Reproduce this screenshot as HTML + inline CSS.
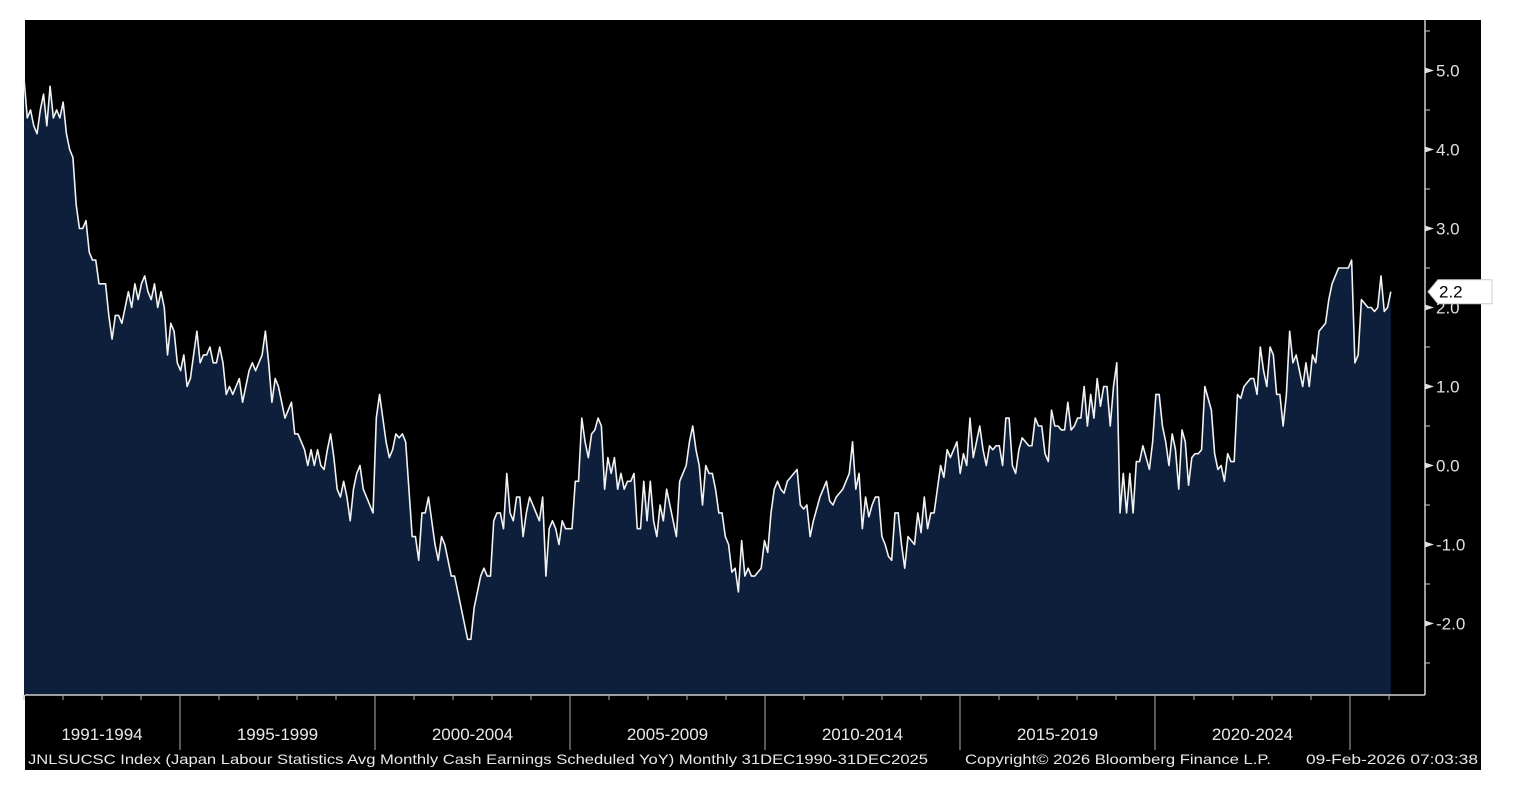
<!DOCTYPE html>
<html><head><meta charset="utf-8"><style>
html,body{margin:0;padding:0;background:#fff;width:1518px;height:786px;overflow:hidden}
svg{display:block;font-family:"Liberation Sans","DejaVu Sans",sans-serif}
</style></head><body>
<svg id="chart" width="1518" height="786" xmlns="http://www.w3.org/2000/svg">
<rect x="25" y="20" width="1456" height="750" fill="#000"/>
<g id="plot"></g>
<g id="axes"></g>
<text x="28" y="764" fill="#e8e8e8" font-size="14" textLength="900" lengthAdjust="spacingAndGlyphs">JNLSUCSC Index (Japan Labour Statistics Avg Monthly Cash Earnings Scheduled YoY) Monthly 31DEC1990-31DEC2025</text>
<text x="965" y="764" fill="#e8e8e8" font-size="14" textLength="306" lengthAdjust="spacingAndGlyphs">Copyright© 2026 Bloomberg Finance L.P.</text>
<text x="1306" y="764" fill="#e8e8e8" font-size="14" textLength="172" lengthAdjust="spacingAndGlyphs">09-Feb-2026 07:03:38</text>
</svg>
<script>
const startYear = 1991;
const values = [
4.9,4.4,4.5,4.3,4.2,4.5,4.7,4.3,4.8,4.4,4.5,4.4,
4.6,4.2,4.0,3.9,3.3,3.0,3.0,3.1,2.7,2.6,2.6,2.3,
2.3,2.3,1.9,1.6,1.9,1.9,1.8,2.0,2.2,2.0,2.3,2.1,
2.3,2.4,2.2,2.1,2.3,2.0,2.2,2.0,1.4,1.8,1.7,1.3,
1.2,1.4,1.0,1.1,1.4,1.7,1.3,1.4,1.4,1.5,1.3,1.3,
1.5,1.3,0.9,1.0,0.9,1.0,1.1,0.8,1.0,1.2,1.3,1.2,
1.3,1.4,1.7,1.3,0.8,1.1,1.0,0.8,0.6,0.7,0.8,0.4,
0.4,0.3,0.2,0.0,0.2,0.0,0.2,0.0,-0.05,0.2,0.4,0.1,
-0.3,-0.4,-0.2,-0.4,-0.7,-0.3,-0.1,0.0,-0.3,-0.4,-0.5,-0.6,
0.6,0.9,0.6,0.3,0.1,0.2,0.4,0.35,0.4,0.3,-0.3,-0.9,
-0.9,-1.2,-0.6,-0.6,-0.4,-0.7,-1.0,-1.2,-0.9,-1.0,-1.2,-1.4,
-1.4,-1.6,-1.8,-2.0,-2.2,-2.2,-1.8,-1.6,-1.4,-1.3,-1.4,-1.4,
-0.7,-0.6,-0.6,-0.8,-0.1,-0.6,-0.7,-0.4,-0.4,-0.9,-0.6,-0.4,
-0.5,-0.6,-0.7,-0.4,-1.4,-0.8,-0.7,-0.8,-1.0,-0.7,-0.8,-0.8,
-0.8,-0.2,-0.2,0.6,0.3,0.1,0.4,0.45,0.6,0.5,-0.3,0.1,
-0.1,0.1,-0.3,-0.1,-0.3,-0.2,-0.2,-0.1,-0.8,-0.8,-0.2,-0.7,
-0.2,-0.7,-0.9,-0.5,-0.7,-0.3,-0.5,-0.7,-0.9,-0.2,-0.1,0.0,
0.3,0.5,0.2,0.0,-0.5,0.0,-0.1,-0.1,-0.3,-0.6,-0.6,-0.9,
-1.0,-1.35,-1.3,-1.6,-0.95,-1.4,-1.3,-1.4,-1.4,-1.35,-1.3,-0.95,
-1.1,-0.6,-0.3,-0.2,-0.3,-0.35,-0.2,-0.15,-0.1,-0.05,-0.5,-0.55,
-0.5,-0.9,-0.7,-0.55,-0.4,-0.3,-0.2,-0.45,-0.5,-0.4,-0.35,-0.3,
-0.2,-0.1,0.3,-0.3,-0.1,-0.8,-0.4,-0.65,-0.5,-0.4,-0.4,-0.9,
-1.0,-1.15,-1.2,-0.6,-0.6,-1.0,-1.3,-0.9,-0.95,-1.0,-0.6,-0.85,
-0.4,-0.8,-0.6,-0.6,-0.3,0.0,-0.15,0.2,0.1,0.2,0.3,-0.1,
0.15,0.0,0.6,0.1,0.3,0.5,0.2,0.0,0.25,0.2,0.25,0.25,
0.0,0.6,0.6,0.0,-0.1,0.2,0.35,0.3,0.25,0.25,0.6,0.5,
0.5,0.15,0.05,0.7,0.5,0.5,0.45,0.45,0.8,0.45,0.5,0.6,
0.6,1.0,0.5,0.9,0.6,1.1,0.75,1.0,1.0,0.5,1.0,1.3,
-0.6,-0.1,-0.6,-0.1,-0.6,0.05,0.05,0.25,0.1,-0.05,0.3,0.9,
0.9,0.5,0.3,0.0,0.4,0.2,-0.3,0.45,0.3,-0.25,0.1,0.15,
0.15,0.2,1.0,0.85,0.7,0.15,-0.05,0.0,-0.2,0.15,0.05,0.05,
0.9,0.85,1.0,1.05,1.1,1.1,0.9,1.5,1.2,1.0,1.5,1.4,
0.9,0.9,0.5,0.9,1.7,1.3,1.4,1.2,1.0,1.3,1.0,1.4,
1.3,1.7,1.75,1.8,2.1,2.3,2.4,2.5,2.5,2.5,2.5,2.6,
1.3,1.4,2.1,2.05,2.0,2.0,1.95,2.0,2.4,1.95,2.0,2.2
];
const yTicks = [5.0,4.0,3.0,2.0,1.0,0.0,-1.0,-2.0];
const yTickLabels = ["5.0","4.0","3.0","2.0","1.0","0.0","-1.0","-2.0"];
const periodLabels = ["1991-1994","1995-1999","2000-2004","2005-2009","2010-2014","2015-2019","2020-2024"];
const periodStarts = [1991,1995,2000,2005,2010,2015,2020];
const periodEnds = [1995,2000,2005,2010,2015,2020,2025];
const lastValueLabel = "2.2";

const NS="http://www.w3.org/2000/svg";
const X0=24, PXM=3.262, Y0=465.5, PXU=79, BOTTOM=695, RIGHT=1425, TOP=20;
const xM = i => X0 + PXM*i;
const xYear = y => X0 + (y-startYear)*12*3.25;
const yV = v => Y0 - v*PXU;
function mk(tag, attrs, parent){const e=document.createElementNS(NS,tag);for(const k in attrs)e.setAttribute(k,attrs[k]);parent.appendChild(e);return e;}
const plot=document.getElementById('plot'), axes=document.getElementById('axes');

let pts=values.map((v,i)=>xM(i).toFixed(2)+","+yV(v).toFixed(2));
const area=mk('polygon',{points:xM(0)+","+BOTTOM+" "+pts.join(" ")+" "+xM(values.length-1)+","+BOTTOM,fill:"#0d1f3b"},plot);


const line=mk('polyline',{points:pts.join(" "),fill:"none",stroke:"#f2f2f2","stroke-width":"1.6","stroke-linejoin":"round"},plot);



const yAxis=mk('line',{x1:RIGHT,y1:TOP,x2:RIGHT,y2:BOTTOM,stroke:"#d0d0d0","stroke-width":"1.5"},axes);


const xAxis=mk('line',{x1:25,y1:BOTTOM,x2:RIGHT,y2:BOTTOM,stroke:"#d0d0d0","stroke-width":"1.5"},axes);



for(let v=-2.5; v<=5.5; v+=1){
  const t=mk('line',{x1:RIGHT,y1:yV(v),x2:RIGHT+5,y2:yV(v),stroke:"#d0d0d0","stroke-width":"1"},axes);
  
  
}
yTicks.forEach((v,i)=>{
  const y=yV(v);
  const tri=mk('polygon',{points:`${RIGHT},${y-3} ${RIGHT+9},${y} ${RIGHT},${y+3}`,fill:"#e0e0e0"},axes);
  
  
  const tx=mk('text',{x:RIGHT+11,y:y+6,fill:"#e0e0e0","font-size":"17"},axes);
  tx.textContent=yTickLabels[i];
  
  
});

for(let y=startYear; y<=2026; y++){
  const isMajor=periodEnds.includes(y)&&y!==2026;
  const t=mk('line',{x1:xYear(y),y1:BOTTOM,x2:xYear(y),y2:isMajor?750:BOTTOM+5,stroke:"#b0b0b0","stroke-width":"1"},axes);
  
  
}
periodLabels.forEach((lab,i)=>{
  const cx=(xYear(periodStarts[i])+xYear(periodEnds[i]))/2;
  const tx=mk('text',{x:cx,y:740,fill:"#e8e8e8","font-size":"17","text-anchor":"middle"},axes);
  tx.textContent=lab;
  
  
});

const ly=yV(values[values.length-1]);
const tag=mk('polygon',{points:`${RIGHT+3},${ly} ${RIGHT+13},${ly-12} ${1492},${ly-12} ${1492},${ly+12} ${RIGHT+13},${ly+12}`,fill:"#fff",stroke:"#ccc","stroke-width":"1"},axes);


const tt=mk('text',{x:RIGHT+14,y:ly+6,fill:"#000","font-size":"17"},axes);
tt.textContent=lastValueLabel;


</script>
</body></html>
